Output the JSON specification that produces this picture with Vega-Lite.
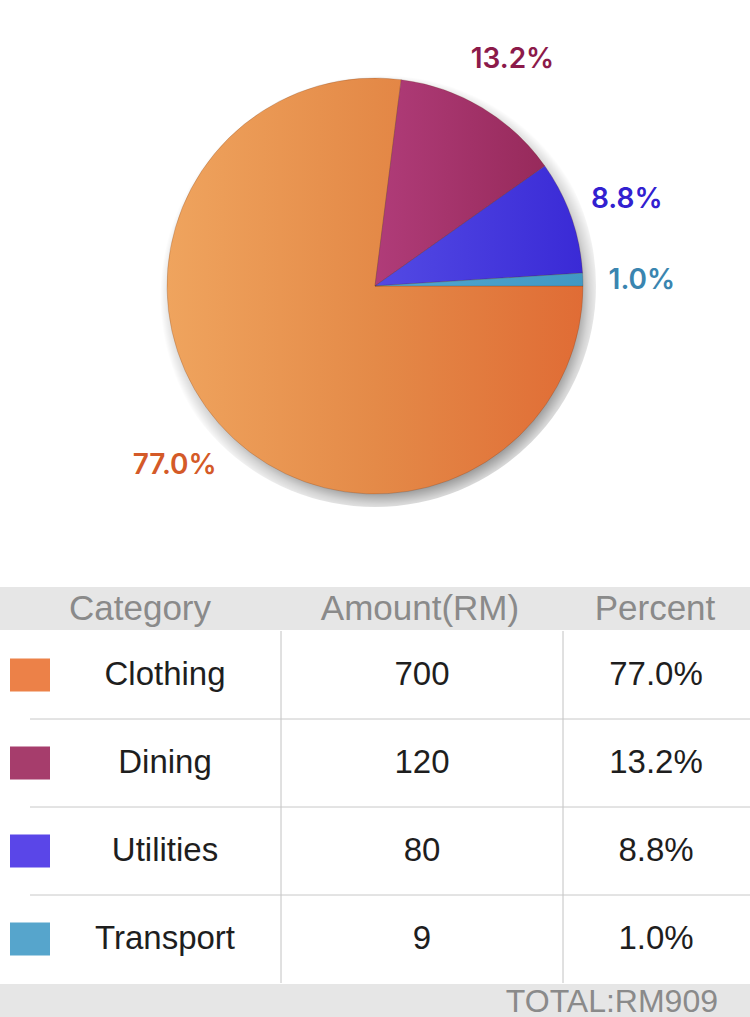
{
  "$schema": "https://vega.github.io/schema/vega-lite/v6.json",
  "padding": 0,
  "background": "white",
  "config": {"view": {"stroke": null}, "text": {"font": "Liberation Sans"}},
  "datasets": {
    "spend": [
      {"category": "Clothing", "amount": 700, "percent": 0.770},
      {"category": "Dining", "amount": 120, "percent": 0.132},
      {"category": "Utilities", "amount": 80, "percent": 0.088},
      {"category": "Transport", "amount": 9, "percent": 0.010}
    ]
  },
  "spacing": 15,
  "vconcat": [
    {
      "width": 750,
      "height": 572,
      "layer": [
        {
          "data": {"values": [{"shadow": 1}]},
          "mark": {
            "type": "arc", "radius": 221, "theta": 0, "theta2": 6.2832,
            "fill": {
              "gradient": "radial", "x1": 0.514, "y1": 0.523, "r1": 0, "x2": 0.514, "y2": 0.523, "r2": 0.5,
              "stops": [
                {"offset": 0, "color": "rgba(0,0,0,0.45)"},
                {"offset": 0.88, "color": "rgba(0,0,0,0.42)"},
                {"offset": 0.94, "color": "rgba(0,0,0,0.17)"},
                {"offset": 1, "color": "rgba(0,0,0,0)"}
              ]
            }
          },
          "encoding": {}
        },
        {
          "data": {"name": "spend"},
          "mark": {"type": "arc", "radius": 208, "stroke": "#5a2a10", "strokeOpacity": 0.25, "strokeWidth": 0.8},
          "encoding": {
            "theta": {"field": "amount", "type": "quantitative", "stack": true, "scale": {"range": [1.5708, 7.85398]}},
            "order": {"field": "amount", "sort": "descending"},
            "fill": {
              "condition": [
                {"test": "datum.category === 'Clothing'", "value": {"gradient": "linear", "x1": 0, "y1": 0, "x2": 1, "y2": 0, "stops": [{"offset": 0, "color": "#efa45e"}, {"offset": 0.5, "color": "#e48a48"}, {"offset": 1, "color": "#e06c35"}]}},
                {"test": "datum.category === 'Dining'", "value": {"gradient": "linear", "x1": 0, "y1": 0, "x2": 1, "y2": 0, "stops": [{"offset": 0, "color": "#b03c79"}, {"offset": 1, "color": "#972a5b"}]}},
                {"test": "datum.category === 'Utilities'", "value": {"gradient": "linear", "x1": 0, "y1": 0, "x2": 1, "y2": 0, "stops": [{"offset": 0, "color": "#534ae4"}, {"offset": 1, "color": "#3a2ad6"}]}}
              ],
              "value": {"gradient": "linear", "x1": 0, "y1": 0, "x2": 1, "y2": 0, "stops": [{"offset": 0, "color": "#52a8d0"}, {"offset": 1, "color": "#4098c4"}]}
            }
          }
        },
        {
          "data": {"name": "spend"},
          "mark": {"type": "text", "radius": 267, "font": "Inter", "fontSize": 28, "fontWeight": 600, "align": "center", "baseline": "middle", "dy": 3},
          "encoding": {
            "theta": {"field": "amount", "type": "quantitative", "stack": true},
            "order": {"field": "amount", "sort": "descending"},
            "text": {"field": "percent", "type": "quantitative", "format": ".1%"},
            "color": {
              "condition": [
                {"test": "datum.category === 'Clothing'", "value": "#d45a28"},
                {"test": "datum.category === 'Dining'", "value": "#8c1a4a"},
                {"test": "datum.category === 'Utilities'", "value": "#3220d0"}
              ],
              "value": "#3a85b0"
            }
          }
        }
      ]
    },
    {
      "spacing": 0,
      "vconcat": [
        {
          "width": 750,
          "height": 43,
          "view": {"fill": "#e6e6e6", "stroke": null},
          "data": {"values": [{"header": 1}]},
          "layer": [
            {"mark": {"type": "text", "fontSize": 35, "color": "#8a8a8a", "baseline": "middle"},
             "encoding": {"x": {"datum": 140, "type": "quantitative", "scale": {"domain": [0, 750], "nice": false}, "axis": null}, "text": {"value": "Category"}}},
            {"mark": {"type": "text", "fontSize": 35, "color": "#8a8a8a", "baseline": "middle"},
             "encoding": {"x": {"datum": 420, "type": "quantitative"}, "text": {"value": "Amount(RM)"}}},
            {"mark": {"type": "text", "fontSize": 35, "color": "#8a8a8a", "baseline": "middle"},
             "encoding": {"x": {"datum": 655, "type": "quantitative"}, "text": {"value": "Percent"}}}
          ]
        },
        {
          "width": 750,
          "height": 352,
          "data": {"name": "spend"},
          "layer": [
            {"mark": {"type": "rule", "color": "#dedede", "strokeWidth": 1},
             "encoding": {"x": {"datum": 281, "type": "quantitative", "scale": {"domain": [0, 750], "nice": false}, "axis": null}}},
            {"mark": {"type": "rule", "color": "#dedede", "strokeWidth": 1},
             "encoding": {"x": {"datum": 563, "type": "quantitative"}}},
            {"transform": [{"filter": "datum.category !== 'Clothing'"}],
             "mark": {"type": "rule", "color": "#c8c8c8", "strokeWidth": 1},
             "encoding": {
               "y": {"field": "category", "type": "nominal", "bandPosition": 0, "sort": ["Clothing", "Dining", "Utilities", "Transport"], "scale": {"domain": ["Clothing", "Dining", "Utilities", "Transport"], "paddingInner": 0, "paddingOuter": 0}, "axis": null},
               "x": {"datum": 30, "type": "quantitative"},
               "x2": {"datum": 750}
             }},
            {"mark": {"type": "rect", "height": {"band": 0.375}},
             "encoding": {
               "y": {"field": "category", "type": "nominal", "sort": ["Clothing", "Dining", "Utilities", "Transport"]},
               "x": {"datum": 10, "type": "quantitative"},
               "x2": {"datum": 50},
               "fill": {
                 "condition": [
                   {"test": "datum.category === 'Clothing'", "value": "#ec8148"},
                   {"test": "datum.category === 'Dining'", "value": "#a63d6c"},
                   {"test": "datum.category === 'Utilities'", "value": "#5a46e8"}
                 ],
                 "value": "#56a5cc"
               }
             }},
            {"mark": {"type": "text", "fontSize": 33, "color": "#1e1e1e", "baseline": "middle"},
             "encoding": {
               "y": {"field": "category", "type": "nominal", "sort": ["Clothing", "Dining", "Utilities", "Transport"]},
               "x": {"datum": 165, "type": "quantitative"},
               "text": {"field": "category", "type": "nominal"}
             }},
            {"mark": {"type": "text", "fontSize": 33, "color": "#1e1e1e", "baseline": "middle"},
             "encoding": {
               "y": {"field": "category", "type": "nominal", "sort": ["Clothing", "Dining", "Utilities", "Transport"]},
               "x": {"datum": 422, "type": "quantitative"},
               "text": {"field": "amount", "type": "quantitative"}
             }},
            {"mark": {"type": "text", "fontSize": 33, "color": "#1e1e1e", "baseline": "middle"},
             "encoding": {
               "y": {"field": "category", "type": "nominal", "sort": ["Clothing", "Dining", "Utilities", "Transport"]},
               "x": {"datum": 656, "type": "quantitative"},
               "text": {"field": "percent", "type": "quantitative", "format": ".1%"}
             }}
          ]
        },
        {
          "width": 750,
          "height": 35,
          "view": {"fill": "#e6e6e6", "stroke": null},
          "data": {"values": [{"total": 909}]},
          "mark": {"type": "text", "fontSize": 32, "color": "#8a8a8a", "align": "right", "baseline": "middle", "dy": 0},
          "encoding": {
            "x": {"datum": 718, "type": "quantitative", "scale": {"domain": [0, 750], "nice": false}, "axis": null},
            "text": {"value": "TOTAL:RM909"}
          }
        }
      ]
    }
  ]
}
